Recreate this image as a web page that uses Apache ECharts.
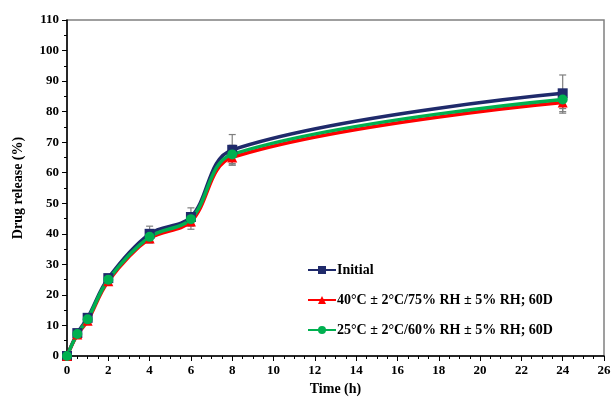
<!DOCTYPE html>
<html>
<head>
<meta charset="utf-8">
<script src="https://cdn.jsdelivr.net/npm/echarts@6/dist/echarts.min.js"></script>
<style>
  html, body { margin: 0; padding: 0; background: #fff; }
  #chart { width: 614px; height: 403px; }
</style>
</head>
<body>
<div id="chart"></div>
<script>
// time points (h)
const timePoints = [0, 0.5, 1, 2, 4, 6, 8, 24];

const initialRelease = [0, 7.5, 12.5, 25.5, 40, 45.5, 67.5, 86];
const redRelease = [0, 7, 11.5, 24.5, 38.5, 44, 65, 83];
const greenRelease = [0, 7.2, 12, 25, 39, 44.8, 66, 84];

// standard deviation
const initialErr = [0.5, 0.8, 0.8, 1.2, 2.5, 3, 5, 6];
const redErr = [0.5, 0.8, 0.8, 1, 1.5, 2.5, 2.5, 3.5];
const greenErr = [0.5, 0.8, 0.8, 1, 1.5, 2, 3, 3];

const seriesNames = [
  'Initial',
  '40°C ± 2°C/75% RH ± 5% RH; 60D',
  '25°C ± 2°C/60% RH ± 5% RH; 60D'
];

function toPairs(ys) {
  return timePoints.map((t, i) => [t, ys[i]]);
}

function errPairs(ys, errs) {
  return timePoints.map((t, i) => [t, ys[i] - errs[i], ys[i] + errs[i]]);
}

function errorBarSeries(ys, errs) {
  return {
    type: 'custom',
    silent: true,
    z: 1,
    data: errPairs(ys, errs),
    renderItem: function (params, api) {
      const x = api.value(0);
      const lo = api.coord([x, api.value(1)]);
      const hi = api.coord([x, api.value(2)]);
      const w = 3.5;
      const style = { stroke: '#7f7f7f', lineWidth: 1.2 };
      return {
        type: 'group',
        children: [
          { type: 'line', shape: { x1: lo[0], y1: lo[1], x2: hi[0], y2: hi[1] }, style: style },
          { type: 'line', shape: { x1: lo[0] - w, y1: lo[1], x2: lo[0] + w, y2: lo[1] }, style: style },
          { type: 'line', shape: { x1: hi[0] - w, y1: hi[1], x2: hi[0] + w, y2: hi[1] }, style: style }
        ]
      };
    }
  };
}

function lineSeries(name, ys, color, symbol) {
  return {
    name: name,
    type: 'line',
    smooth: 0.35,
    z: 3,
    data: toPairs(ys),
    symbol: symbol,
    symbolSize: 10,
    lineStyle: { color: color, width: 3.5 },
    itemStyle: { color: color }
  };
}

const font = '"Liberation Serif", "Times New Roman", serif';

const chart = echarts.init(document.getElementById('chart'));
chart.setOption({
  animation: false,
  grid: {
    left: 67, right: 10, top: 20, bottom: 47,
    show: true, borderColor: '#808080', borderWidth: 1.5
  },
  legend: {
    orient: 'vertical',
    left: 302,
    top: 258,
    itemGap: 16,
    itemWidth: 28,
    itemHeight: 10,
    data: seriesNames,
    textStyle: { fontFamily: font, fontWeight: 'bold', fontSize: 14, color: '#000', padding: [0, 0, 0, -4] }
  },
  xAxis: {
    type: 'value',
    min: 0, max: 26, interval: 2,
    name: 'Time (h)',
    nameLocation: 'middle',
    nameGap: 26,
    nameTextStyle: { fontFamily: font, fontWeight: 'bold', fontSize: 14, color: '#000' },
    axisLine: { lineStyle: { color: '#000', width: 1.5 } },
    axisTick: { length: 5, lineStyle: { color: '#000' } },
    minorTick: { show: true, splitNumber: 4, length: 3, lineStyle: { color: '#000' } },
    splitLine: { show: false },
    axisLabel: { fontFamily: font, fontWeight: 'bold', fontSize: 13, color: '#000', margin: 8 }
  },
  yAxis: {
    type: 'value',
    min: 0, max: 110, interval: 10,
    name: 'Drug release (%)',
    nameLocation: 'middle',
    nameGap: 42,
    nameTextStyle: { fontFamily: font, fontWeight: 'bold', fontSize: 14, color: '#000' },
    axisLine: { show: true, lineStyle: { color: '#000', width: 1.5 } },
    axisTick: { show: true, length: 5, lineStyle: { color: '#000' } },
    minorTick: { show: true, splitNumber: 2, length: 3, lineStyle: { color: '#000' } },
    splitLine: { show: false },
    axisLabel: { fontFamily: font, fontWeight: 'bold', fontSize: 13, color: '#000', margin: 8 }
  },
  series: [
    errorBarSeries(initialRelease, initialErr),
    errorBarSeries(redRelease, redErr),
    errorBarSeries(greenRelease, greenErr),
    lineSeries(seriesNames[0], initialRelease, '#1f2a6b', 'rect'),
    lineSeries(seriesNames[1], redRelease, '#ff0000', 'triangle'),
    lineSeries(seriesNames[2], greenRelease, '#00b050', 'circle')
  ]
});
</script>
</body>
</html>
